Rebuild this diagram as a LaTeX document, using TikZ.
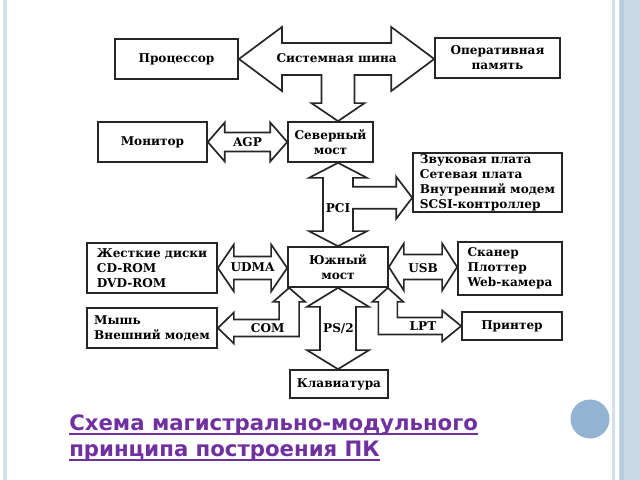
\documentclass[tikz,border=0pt]{standalone}
\usepackage{fontspec}
\setmainfont{DejaVu Serif}
\newfontfamily\titlefont{DejaVu Sans}
\usetikzlibrary{calc,positioning}

\definecolor{titlepurple}{HTML}{7030A0}
\definecolor{paleblue}{HTML}{D3E0EB}
\definecolor{panelblue}{HTML}{CBD9E6}
\definecolor{stripeblue}{HTML}{BACDDE}
\definecolor{dotblue}{HTML}{93B3D3}

% horizontal block arrow with two heads: left end, right end, head length, head half, shaft half
\newcommand{\hbus}[5]{%
  \draw[busarrow] (#1) -- ++(#3,-#4) -- ++(0,#4-#5) -- ($(#1 -| #2)+(-#3,-#5)$) -- ++(0,#5-#4)
    -- (#1 -| #2) -- ++(-#3,#4) -- ++(0,#5-#4) -- ($(#1)+(#3,#5)$) -- ++(0,#4-#5) -- cycle;}
% vertical block arrow with two heads: top end, bottom end, head length, head half, shaft half
\newcommand{\vbus}[5]{%
  \draw[busarrow] (#1) -- ++(#4,#3) -- ++(#5-#4,0) -- ($(#1 |- #2)+(#5,-#3)$) -- ++(#4-#5,0)
    -- (#1 |- #2) -- ++(-#4,-#3) -- ++(#4-#5,0) -- ($(#1)+(-#5,#3)$) -- ++(#5-#4,0) -- cycle;}

\begin{document}
\begin{tikzpicture}[
    x=0.025cm, y=-0.025cm,
    blk/.style={rectangle, draw=black!85, line width=1.2pt, inner sep=2pt,
      font=\fontsize{8.6}{10.6}\selectfont\bfseries, align=center},
    lblk/.style={blk, align=left},
    busarrow/.style={draw=black!85, line width=1.2pt, fill=white, line join=miter},
    lbl/.style={font=\fontsize{8.6}{10.6}\selectfont\bfseries, inner sep=1pt},
    ttl/.style={font=\titlefont\fontsize{15.1}{18}\selectfont\bfseries, text=titlepurple, anchor=base west, inner sep=0pt},
    uline/.style={draw=titlepurple, line width=1pt}
]
\useasboundingbox (0,0) rectangle (640,480);

% slide decoration
\fill[paleblue] (3,0) rectangle (7,480);
\fill[paleblue] (612,0) rectangle (615,480);
\fill[panelblue] (619,0) rectangle (640,480);
\fill[stripeblue] (620,0) rectangle (624,480);
\fill[dotblue] (590,419) circle (19.5);

% Nodes
\node[blk, minimum width=3.08cm, minimum height=1cm] (cpu) at (176.5,59) {Процессор};
\node[blk, minimum width=3.12cm, minimum height=1cm] (ram) at (497.5,58) {Оперативная\\память};
\node[blk, minimum width=2.72cm, minimum height=1cm] (mon) at (152.5,142) {Монитор};
\node[blk, minimum width=2.12cm, minimum height=1cm] (nb) at (330.5,142) {Северный\\мост};
\node[lblk, minimum width=3.72cm, minimum height=1.48cm, inner ysep=1pt] (cards) at (487.5,182.5)
  {Звуковая плата\\Сетевая плата\\Внутренний модем\\SCSI-контроллер};
\node[lblk, minimum width=3.25cm, minimum height=1.25cm] (hdd) at (152,268) {Жесткие диски\\CD-ROM\\DVD-ROM};
\node[blk, minimum width=2.5cm, minimum height=1cm] (sb) at (338,267) {Южный\\мост};
\node[lblk, minimum width=2.6cm, minimum height=1.32cm] (scan) at (510,268.5) {Сканер\\Плоттер\\Web-камера};
\node[lblk, minimum width=3.25cm, minimum height=1cm] (mouse) at (152,328) {Мышь\\Внешний модем};
\node[blk, minimum width=2.5cm, minimum height=0.7cm] (prn) at (512,326) {Принтер};
\node[blk, minimum width=2.45cm, minimum height=0.7cm] (kbd) at (339,384) {Клавиатура};

\coordinate (pcit) at ($(cards.south west)!0.25!(cards.north west)$);
\coordinate (comt) at ($(sb.south west)+(2,0)$);
\coordinate (lptt) at ($(sb.south east)+(-1,0)$);

% Connections
% system bus with branch to the north bridge
\draw[busarrow] (cpu.east) -- ++(43,-32) -- ++(0,16) -- ($(cpu.east -| ram.west)+(-43,-16)$) -- ++(0,-16)
  -- (cpu.east -| ram.west) -- ++(-43,32) -- ++(0,-16) -- ($(cpu.east -| sb.north)+(16.5,16)$)
  -- ($(nb.north -| sb.north)+(16.5,-18)$) -- ++(10,0) -- (nb.north -| sb.north) -- ++(-26.5,-18) -- ++(10,0)
  -- ($(cpu.east -| sb.north)+(-16.5,16)$) -- ($(cpu.east)+(43,16)$) -- ++(0,16) -- cycle;

% AGP, UDMA, USB, PS/2
\hbus{mon.east}{nb.west}{17}{19.5}{9.5}
\hbus{hdd.east}{sb.west}{16}{23.5}{11.5}
\hbus{sb.east}{scan.west}{15}{23.5}{12.5}
\vbus{sb.south}{kbd.north}{19}{31}{18}

% PCI with branch to the cards
\draw[busarrow] (nb.south -| sb.north) -- ++(29,15) -- ++(-14,0) -- ($(pcit -| sb.north)+(15,-11)$)
  -- ($(pcit)+(-16,-11)$) -- ++(0,-10) -- (pcit) -- ++(-16,21) -- ++(0,-10)
  -- ($(pcit -| sb.north)+(15,11)$) -- ($(sb.north)+(15,-15)$) -- ++(14,0) -- (sb.north)
  -- ++(-29,-15) -- ++(14,0) -- ($(nb.south -| sb.north)+(-15,15)$) -- ++(-14,0) -- cycle;

% COM
\draw[busarrow] (mouse.east) -- ++(16,-15.5) -- ++(0,7) -- ($(mouse.east -| comt)+(-10,-8.5)$)
  -- ($(comt)+(-10,14)$) -- ++(-6,0) -- (comt) -- ++(16,14) -- ++(-6,0)
  -- ($(mouse.east -| comt)+(10,8.5)$) -- ($(mouse.east)+(16,8.5)$) -- ++(0,7) -- cycle;

% LPT
\draw[busarrow] (lptt) -- ++(15.5,14) -- ++(-6,0) -- ($(lptt |- prn.west)+(9.5,-8.5)$)
  -- ($(prn.west)+(-19,-8.5)$) -- ++(0,-7) -- (prn.west) -- ++(-19,15.5) -- ++(0,-7)
  -- ($(lptt |- prn.west)+(-9.5,8.5)$) -- ($(lptt)+(-9.5,14)$) -- ++(-6,0) -- cycle;

% Labels
\node[lbl] (busl) at ($(cpu.east)!0.5!(ram.west)$) {Системная шина};
\node[lbl] (agpl) at ($(mon.east)!0.5!(nb.west)$) {AGP};
\node[lbl] (pcil) at ($(nb.south -| sb.north)!0.54!(sb.north)$) {PCI};
\node[lbl] (udmal) at ($(hdd.east)!0.5!(sb.west)$) {UDMA};
\node[lbl] (usbl) at ($(sb.east)!0.5!(scan.west)$) {USB};
\node[lbl] (coml) at ($(mouse.east)!0.7!(mouse.east -| comt)$) {COM};
\node[lbl] (ps2l) at ($(sb.south)!0.5!(kbd.north)$) {PS/2};
\node[lbl] (lptl) at ($(lptt |- prn.west)!0.48!(prn.west)$) {LPT};

% Title
\node[ttl] (title1) at (69,430) {Схема магистрально-модульного};
\node[ttl] (title2) at (69,456) {принципа построения ПК};
\draw[uline] ($(title1.base west)+(0,4)$) -- ($(title1.base east)+(0,4)$);
\draw[uline] ($(title2.base west)+(0,4)$) -- ($(title2.base east)+(0,4)$);

\end{tikzpicture}
\end{document}
